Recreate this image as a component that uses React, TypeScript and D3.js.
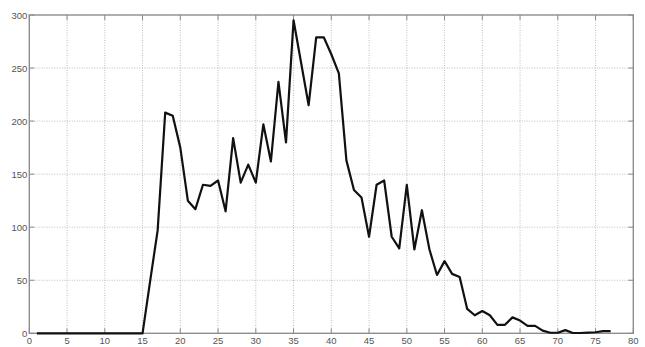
import React from "react";
import * as d3 from "d3";

const xValues: number[] = d3.range(1, 78);
const yValues: number[] = [
  0, 0, 0, 0, 0, 0, 0, 0, 0, 0, 0, 0, 0, 0, 0, // 1-15
  49, 97, 208, 205, 175, 125, 117, 140, 139, 144, // 16-25
  115, 184, 142, 159, 142, 197, 162, 237, 180, 295, // 26-35
  255, 215, 279, 279, 263, 245, 163, 135, 128, 91, // 36-45
  140, 144, 91, 80, 140, 79, 116, 79, 55, 68, // 46-55
  56, 53, 23, 17, 21, 17, 8, 8, 15, 12, // 56-65
  7, 7, 2.5, 0.5, 0.5, 3, 0.3, 0.3, 0.7, 1, // 66-75
  2, 2, // 76-77
];
const xTicks: number[] = d3.range(0, 81, 5);
const yTicks: number[] = d3.range(0, 301, 50);

export default function App() {
  const W = 645;
  const H = 347;
  const left = 29.3;
  const right = 633.3;
  const top = 15;
  const bottom = 333.3;
  const x = d3.scaleLinear().domain([0, 80]).range([left, right]);
  const y = d3.scaleLinear().domain([0, 300]).range([bottom, top]);
  const line = d3
    .line<number>()
    .x((_, i) => x(xValues[i]))
    .y((d) => y(d));
  const pts = yValues.map((v) => v);
  const font = "Liberation Sans, Arial, sans-serif";
  return (
    <svg
      width={W}
      height={H}
      style={{ position: "absolute", left: 0, top: 0, background: "#fff" }}
    >
      {xTicks.map((t) => (
        <line
          key={"gx" + t}
          x1={x(t)}
          x2={x(t)}
          y1={top}
          y2={bottom}
          stroke="#bdbdbd"
          strokeWidth={1}
          strokeDasharray="1,1.5"
        />
      ))}
      {yTicks.map((t) => (
        <line
          key={"gy" + t}
          x1={left}
          x2={right}
          y1={y(t)}
          y2={y(t)}
          stroke="#bdbdbd"
          strokeWidth={1}
          strokeDasharray="1,1.5"
        />
      ))}
      <rect
        x={left}
        y={top}
        width={right - left}
        height={bottom - top}
        fill="none"
        stroke="#8a8a8a"
        strokeWidth={1.3}
      />
      {xTicks.map((t) => (
        <g key={"tx" + t}>
          <line x1={x(t)} x2={x(t)} y1={bottom} y2={bottom - 5} stroke="#8a8a8a" />
          <line x1={x(t)} x2={x(t)} y1={top} y2={top + 5} stroke="#8a8a8a" />
          <text
            x={x(t)}
            y={bottom + 11}
            textAnchor="middle"
            fontFamily={font}
            fontSize={9.5}
            fill="#555"
          >
            {t}
          </text>
        </g>
      ))}
      {yTicks.map((t) => (
        <g key={"ty" + t}>
          <line x1={left} x2={left + 5} y1={y(t)} y2={y(t)} stroke="#8a8a8a" />
          <line x1={right} x2={right - 5} y1={y(t)} y2={y(t)} stroke="#8a8a8a" />
          <text
            x={left - 2}
            y={y(t) + 3.5}
            textAnchor="end"
            fontFamily={font}
            fontSize={9.5}
            fill="#555"
          >
            {t}
          </text>
        </g>
      ))}
      <path
        d={line(pts) || ""}
        fill="none"
        stroke="#111"
        strokeWidth={2.2}
        strokeLinejoin="round"
      />
    </svg>
  );
}
